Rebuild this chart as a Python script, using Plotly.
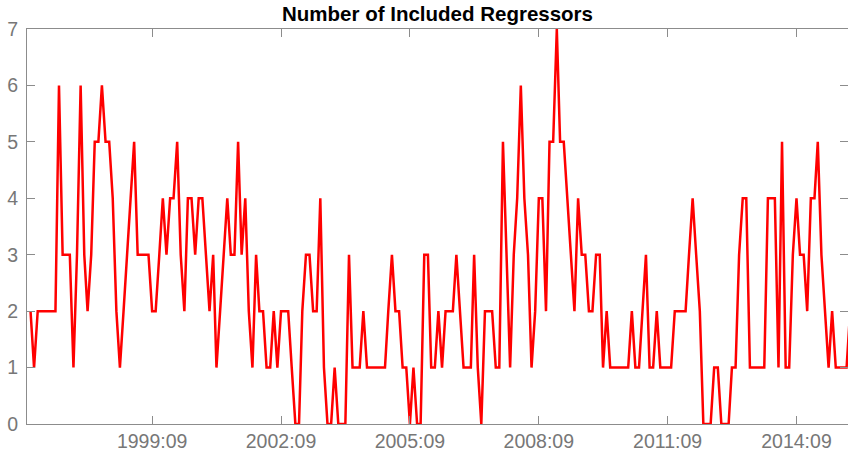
import pandas as pd
import plotly.graph_objects as go

start_month = "1996-11-01"
values = [
    2, 1, 2, 2, 2, 2, 2, 2, 6, 3, 3, 3, 1, 3, 6, 3, 2, 3, 5, 5,
    6, 5, 5, 4, 2, 1, 2, 3, 4, 5, 3, 3, 3, 3, 2, 2, 3, 4, 3, 4,
    4, 5, 3, 2, 4, 4, 3, 4, 4, 3, 2, 3, 1, 2, 3, 4, 3, 3, 5, 3,
    4, 2, 1, 3, 2, 2, 1, 1, 2, 1, 2, 2, 2, 1, 0, 0, 2, 3, 3, 2,
    2, 4, 1, 0, 0, 1, 0, 0, 0, 3, 1, 1, 1, 2, 1, 1, 1, 1, 1, 1,
    2, 3, 2, 2, 1, 1, 0, 1, 0, 0, 3, 3, 1, 1, 2, 1, 2, 2, 2, 3,
    2, 1, 1, 1, 3, 1, 0, 2, 2, 2, 1, 1, 5, 3, 1, 3, 4, 6, 4, 3,
    1, 2, 4, 4, 2, 5, 5, 7, 5, 5, 4, 3, 2, 4, 3, 3, 2, 2, 3, 3,
    1, 2, 1, 1, 1, 1, 1, 1, 2, 1, 1, 2, 3, 1, 1, 2, 1, 1, 1, 1,
    2, 2, 2, 2, 3, 4, 3, 2, 0, 0, 0, 1, 1, 0, 0, 0, 1, 1, 3, 4,
    4, 1, 1, 1, 1, 1, 4, 4, 4, 1, 5, 1, 1, 3, 4, 3, 3, 2, 4, 4,
    5, 3, 2, 1, 2, 1, 1, 1, 1, 2,
]
tick_dates = ["1999-09-01", "2002-09-01", "2005-09-01", "2008-09-01", "2011-09-01", "2014-09-01"]
tick_labels = ["1999:09", "2002:09", "2005:09", "2008:09", "2011:09", "2014:09"]
y_ticks = [0, 1, 2, 3, 4, 5, 6, 7]

dates = pd.date_range(start_month, periods=len(values), freq="MS")

fig = go.Figure()
fig.add_trace(go.Scatter(
    x=dates, y=values, mode="lines",
    line=dict(color="#ff0000", width=2.5),
    hoverinfo="skip", showlegend=False,
))

axis_gray = "#8c8c8c"
label_gray = "#777777"
fig.update_layout(
    width=848, height=457,
    margin=dict(l=27, r=0, t=29, b=33),
    paper_bgcolor="white", plot_bgcolor="white",
    font=dict(family="Liberation Sans, Arial, sans-serif", size=19.5, color=label_gray),
    title=dict(
        text="<b>Number of Included Regressors</b>",
        x=0.5, xref="paper", xanchor="center",
        y=1 - 14 / 457, yref="container", yanchor="middle",
        font=dict(family="Liberation Sans, Arial, sans-serif", size=20.5, color="black"),
    ),
)
fig.update_xaxes(
    range=["1996-10-02", "2015-11-13"],
    tickvals=tick_dates, ticktext=tick_labels,
    ticks="inside", ticklen=8, tickcolor=axis_gray, tickwidth=1,
    showline=True, linecolor=axis_gray, linewidth=1, mirror="ticks",
    showgrid=False, zeroline=False,
)
fig.update_yaxes(
    range=[0, 7], tickvals=y_ticks,
    ticks="inside", ticklen=8, tickcolor=axis_gray, tickwidth=1,
    showline=True, linecolor=axis_gray, linewidth=1, mirror="ticks",
    showgrid=False, zeroline=False, ticklabelstandoff=4,
)

fig.write_html(
    "out.html",
    config={"displayModeBar": False, "staticPlot": True},
    post_script="document.body.style.margin='0';document.body.style.overflow='hidden';",
)
